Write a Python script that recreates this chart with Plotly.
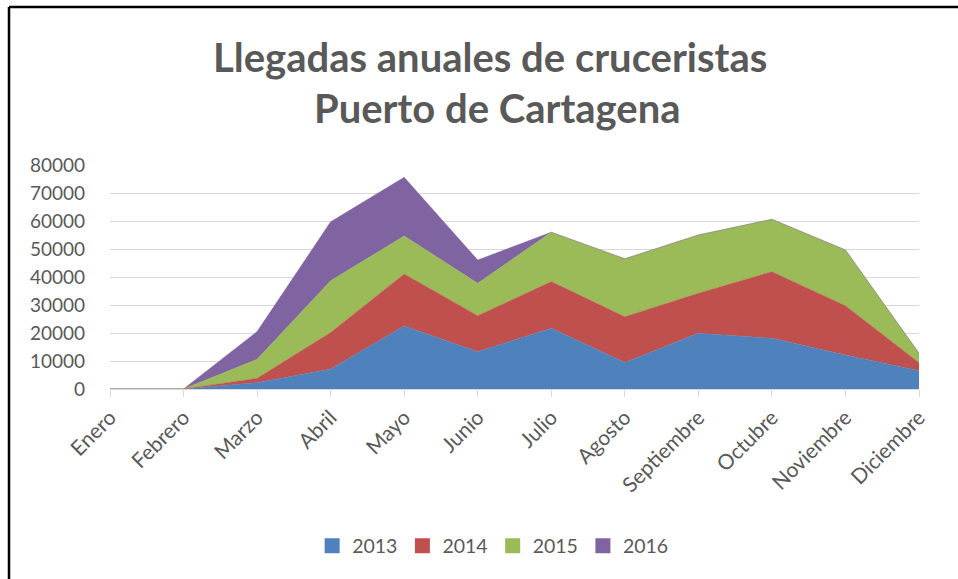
import plotly.graph_objects as go

months = ["Enero", "Febrero", "Marzo", "Abril", "Mayo", "Junio", "Julio",
          "Agosto", "Septiembre", "Octubre", "Noviembre", "Diciembre"]
y2013 = [0, 0, 2250, 7100, 22500, 13300, 21700, 9500, 19900, 18100, 12100, 6550]
y2014 = [0, 0, 1550, 13100, 18570, 12900, 16650, 16300, 14300, 23800, 17650, 2850]
y2015 = [0, 0, 6800, 18450, 13570, 11550, 17650, 20700, 20800, 18700, 19900, 3350]
y2016 = [0, 0, 9900, 21050, 20960, 8300, 0, 0, 0, 0, 0, 0]
series_names = ["2013", "2014", "2015", "2016"]
colors = ["#4f81bd", "#c0504d", "#9bbb59", "#8064a2"]
yticks = [0, 10000, 20000, 30000, 40000, 50000, 60000, 70000, 80000]

FONT = "Lato, 'Open Sans', sans-serif"
GREY = "#595959"

fig = go.Figure()
for name, vals, c in zip(series_names, [y2013, y2014, y2015, y2016], colors):
    fig.add_trace(go.Scatter(
        x=months, y=vals, name=name, stackgroup="one", mode="lines",
        line=dict(color=c, width=0.5), fillcolor=c,
        legendgroup=name, showlegend=False,
    ))
# legend entries with square swatches
for name, c in zip(series_names, colors):
    fig.add_trace(go.Scatter(
        x=[None], y=[None], name=name, mode="markers",
        marker=dict(symbol="square", size=15, color=c),
        legendgroup=name, showlegend=True,
    ))

W, H = 958, 579
L, R, T, B = 110, 919, 165, 389
fig.update_layout(
    width=W, height=H,
    margin=dict(l=L, r=W - R, t=T, b=H - B),
    paper_bgcolor="white", plot_bgcolor="white",
    font=dict(family=FONT, color=GREY, size=19),
    showlegend=True,
    legend=dict(orientation="h", x=0.473, xanchor="center", y=-(546 - B) / (B - T),
                yanchor="middle",
                font=dict(size=19.5, color=GREY), traceorder="normal",
                itemwidth=30, tracegroupgap=0),
    xaxis=dict(type="category", range=[0, 11], showgrid=False,
               showline=True, linecolor="#d9d9d9", linewidth=1,
               ticks="outside", ticklen=7, tickcolor="#d9d9d9",
               tickangle=-45, tickfont=dict(size=21, color=GREY),
               fixedrange=True),
    yaxis=dict(range=[0, 80000], tickvals=yticks, showgrid=True,
               gridcolor="#d9d9d9", gridwidth=1, zeroline=False,
               showline=False, ticks="", tickformat="d",
               ticklabelstandoff=24,
               tickfont=dict(size=19, color=GREY), fixedrange=True),
    annotations=[
        dict(text="<b>Llegadas anuales de cruceristas</b>", xref="paper", yref="paper",
             x=(490 - L) / (R - L), y=(B - 57) / (B - T), xanchor="center", yanchor="middle",
             showarrow=False, font=dict(size=40, color=GREY, family=FONT)),
        dict(text="<b>Puerto de Cartagena</b>", xref="paper", yref="paper",
             x=(497 - L) / (R - L), y=(B - 108) / (B - T), xanchor="center", yanchor="middle",
             showarrow=False, font=dict(size=40, color=GREY, family=FONT)),
    ],
    shapes=[
        dict(type="line", xref="paper", yref="paper",
             x0=(9 - L) / (R - L), x1=(W + 5 - L) / (R - L),
             y0=(B - 7) / (B - T), y1=(B - 7) / (B - T),
             line=dict(color="black", width=2.5)),
        dict(type="line", xref="paper", yref="paper",
             x0=(9 - L) / (R - L), x1=(9 - L) / (R - L),
             y0=(B - 7) / (B - T), y1=(B - H - 5) / (B - T),
             line=dict(color="black", width=2.5)),
    ],
)

fig.write_html("out.html", config={"displayModeBar": False},
               post_script="document.body.style.margin='0';document.body.style.overflow='hidden';")
